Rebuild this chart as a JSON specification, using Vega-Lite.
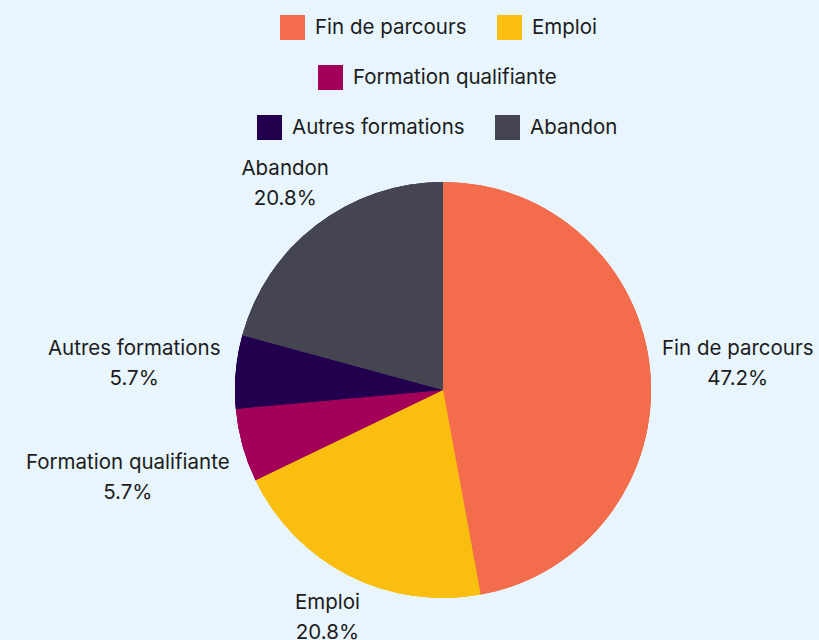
{
  "$schema": "https://vega.github.io/schema/vega-lite/v6.json",
  "autosize": {"type": "none"},
  "width": 752,
  "height": 500,
  "padding": {"left": 67, "top": 140, "right": 0, "bottom": 0},
  "background": "#e8f5fc",
  "config": {
    "view": {"stroke": null},
    "font": "Inter",
    "text": {"font": "Inter", "fontSize": 20.5, "color": "#1c1c1c", "lineBreak": "\n", "lineHeight": 30, "align": "center", "baseline": "middle", "dy": -14},
    "legend": {
      "orient": "none",
      "direction": "horizontal",
      "symbolType": "square",
      "symbolSize": 625,
      "symbolStrokeWidth": 0,
      "symbolOpacity": 1,
      "labelFont": "Inter",
      "labelFontSize": 20.5,
      "labelColor": "#1c1c1c",
      "labelOffset": 10,
      "columnPadding": 30,
      "padding": 0,
      "title": null,
      "labelLimit": 400
    }
  },
  "data": {
    "values": [
      {"cat": "Fin de parcours", "pct": 47.2, "rank": 1},
      {"cat": "Emploi", "pct": 20.8, "rank": 2},
      {"cat": "Formation qualifiante", "pct": 5.7, "rank": 3},
      {"cat": "Autres formations", "pct": 5.7, "rank": 4},
      {"cat": "Abandon", "pct": 20.8, "rank": 5}
    ]
  },
  "transform": [
    {"stack": "pct", "groupby": [], "sort": [{"field": "rank", "order": "ascending"}], "as": ["p0", "p1"]},
    {"calculate": "(datum.p0 + datum.p1) / 2", "as": "pmid"},
    {"calculate": "datum.cat + '\\n' + format(datum.pct, '.1f') + '%'", "as": "label"}
  ],
  "layer": [
    {
      "mark": {"type": "arc", "radius": 208},
      "encoding": {
        "theta": {"field": "p0", "type": "quantitative", "stack": null, "scale": {"domain": [0, 100.2]}},
        "theta2": {"field": "p1"},
        "color": {
          "field": "cat", "type": "nominal",
          "scale": {"domain": ["Fin de parcours", "Emploi", "Formation qualifiante", "Autres formations", "Abandon"], "range": ["#f36d4d", "#fabe0f", "#a3005a", "#23004f", "#454551"]},
          "legend": {"values": ["Fin de parcours", "Emploi"], "legendX": 213, "legendY": -125}
        }
      }
    },
    {
      "mark": {"type": "arc", "radius": 208},
      "encoding": {
        "theta": {"field": "p0", "type": "quantitative", "stack": null},
        "theta2": {"field": "p1"},
        "color": {
          "field": "cat", "type": "nominal",
          "scale": {"domain": ["Fin de parcours", "Emploi", "Formation qualifiante", "Autres formations", "Abandon"], "range": ["#f36d4d", "#fabe0f", "#a3005a", "#23004f", "#454551"]},
          "legend": {"values": ["Formation qualifiante"], "legendX": 251, "legendY": -75}
        }
      }
    },
    {
      "mark": {"type": "arc", "radius": 208},
      "encoding": {
        "theta": {"field": "p0", "type": "quantitative", "stack": null},
        "theta2": {"field": "p1"},
        "color": {
          "field": "cat", "type": "nominal",
          "scale": {"domain": ["Fin de parcours", "Emploi", "Formation qualifiante", "Autres formations", "Abandon"], "range": ["#f36d4d", "#fabe0f", "#a3005a", "#23004f", "#454551"]},
          "legend": {"values": ["Autres formations", "Abandon"], "legendX": 190, "legendY": -25}
        }
      }
    },
    {
      "transform": [{"filter": "datum.cat == 'Fin de parcours'"}],
      "mark": {"type": "text", "radius": 296},
      "encoding": {"theta": {"field": "pmid", "type": "quantitative", "stack": null}, "text": {"field": "label"}}
    },
    {
      "transform": [{"filter": "datum.cat == 'Emploi'"}],
      "mark": {"type": "text", "radius": 255},
      "encoding": {"theta": {"field": "pmid", "type": "quantitative", "stack": null}, "text": {"field": "label"}}
    },
    {
      "transform": [{"filter": "datum.cat == 'Formation qualifiante'"}],
      "mark": {"type": "text", "radius": 327},
      "encoding": {"theta": {"field": "pmid", "type": "quantitative", "stack": null}, "text": {"field": "label"}}
    },
    {
      "transform": [{"filter": "datum.cat == 'Autres formations'"}],
      "mark": {"type": "text", "radius": 310},
      "encoding": {"theta": {"field": "pmid", "type": "quantitative", "stack": null}, "text": {"field": "label"}}
    },
    {
      "transform": [{"filter": "datum.cat == 'Abandon'"}],
      "mark": {"type": "text", "radius": 260},
      "encoding": {"theta": {"field": "pmid", "type": "quantitative", "stack": null}, "text": {"field": "label"}}
    }
  ],
  "resolve": {"scale": {"color": "independent"}}
}
